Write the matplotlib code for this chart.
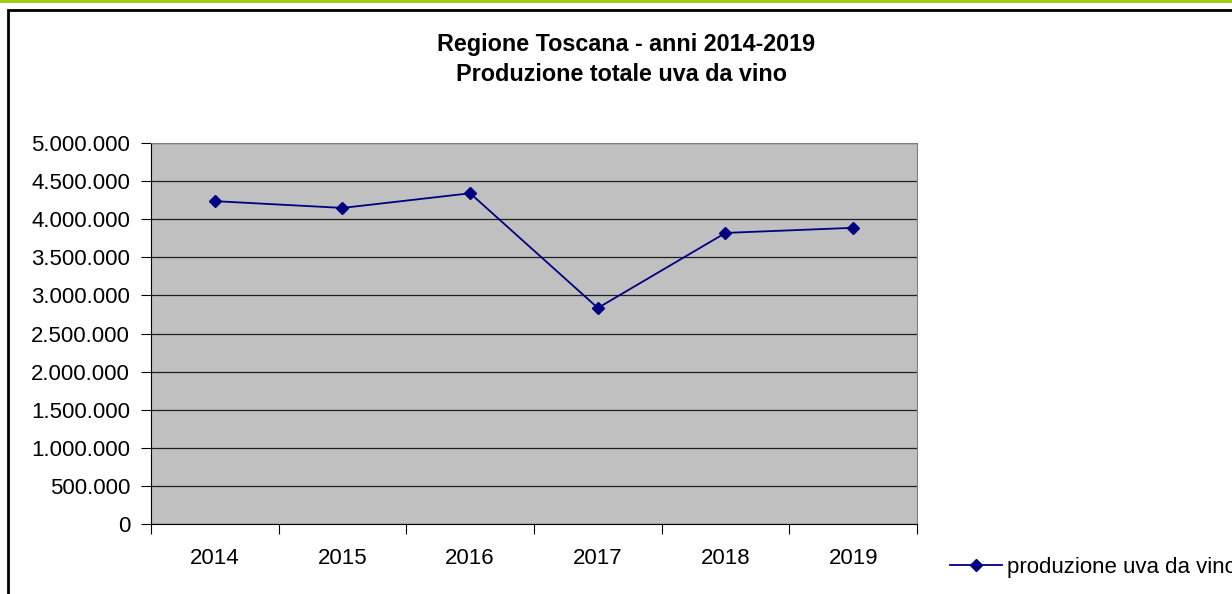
import matplotlib.pyplot as plt
from matplotlib.patches import Rectangle
from matplotlib.lines import Line2D
from matplotlib.ticker import FuncFormatter, MultipleLocator

plt.rcParams['font.family'] = ['Liberation Sans', 'DejaVu Sans']

# Dati
anni = ['2014', '2015', '2016', '2017', '2018', '2019']
produzione = [4237000, 4148000, 4340000, 2835000, 3820000, 3887000]

fig = plt.figure(figsize=(12.32, 5.94), dpi=100)

# Green line at top and chart border
fig.add_artist(Line2D([0, 1], [1 - 1 / 594, 1 - 1 / 594], color='#99CC00',
                      linewidth=2, transform=fig.transFigure))
fig.add_artist(Rectangle((8 / 1232, -0.05), 1.1, 1 - 10 / 594 + 0.05,
                         transform=fig.transFigure, fill=False,
                         edgecolor='black', linewidth=2))

ax = fig.add_axes([151 / 1232, 70 / 594, 766 / 1232, 381 / 594])
ax.set_facecolor('#C0C0C0')

x = list(range(len(anni)))
ax.plot(x, produzione, color='#000080', linewidth=1.3, marker='D',
        markersize=6.5, label='produzione uva da vino')

ax.set_xlim(-0.5, len(anni) - 0.5)
ax.set_ylim(0, 5000000)
ax.yaxis.set_major_locator(MultipleLocator(500000))
ax.yaxis.set_major_formatter(FuncFormatter(lambda v, p: f"{int(v):,}".replace(',', '.')))
ax.grid(axis='y', color='#202020', linewidth=0.9)
ax.set_axisbelow(True)

# categorie centrate, tacche ai bordi
ax.set_xticks([i + 0.5 for i in range(-1, len(anni))])
ax.set_xticklabels([])
ax.set_xticks(x, minor=True)
ax.set_xticklabels(anni, minor=True)
ax.tick_params(axis='x', which='major', length=7, direction='out', color='black')
ax.tick_params(axis='x', which='minor', length=0, pad=17, labelsize=16)
ax.tick_params(axis='y', length=7, direction='out', labelsize=16, pad=8)

ax.spines['left'].set_color('black')
ax.spines['bottom'].set_color('black')
ax.spines['top'].set_color('#808080')
ax.spines['right'].set_color('#808080')

fig.text(626 / 1232, 1 - 51 / 594, 'Regione Toscana - anni 2014-2019',
         ha='center', va='baseline', fontsize=16.8, fontweight='bold')
fig.text(621 / 1232, 1 - 81 / 594, 'Produzione totale uva da vino',
         ha='center', va='baseline', fontsize=16.8, fontweight='bold')

fig.legend(loc='center left', bbox_to_anchor=(950 / 1232, 1 - 567 / 594),
           frameon=False, fontsize=16, handlelength=2.35, handletextpad=0.2,
           borderpad=0, borderaxespad=0)

fig.savefig('out.png', dpi=100)
